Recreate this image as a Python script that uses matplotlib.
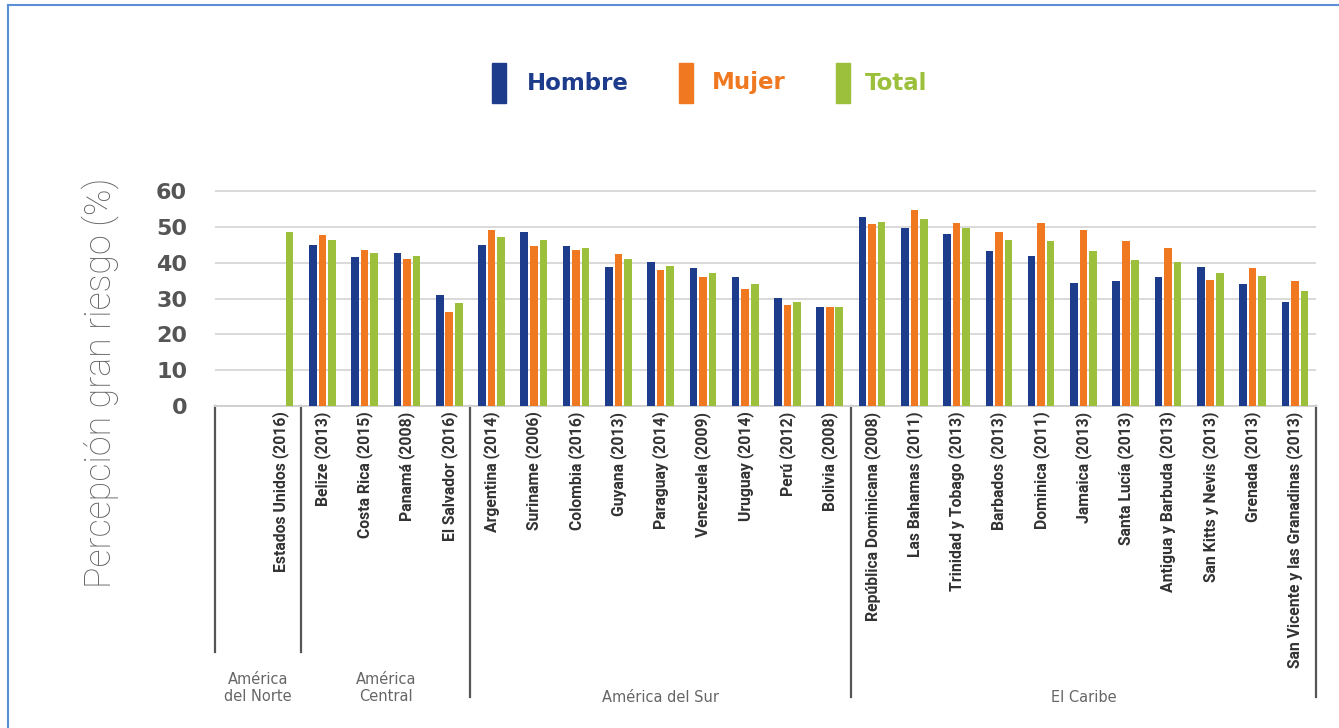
import numpy as np
import matplotlib
matplotlib.use("Agg")
import matplotlib.pyplot as plt
from matplotlib.transforms import blended_transform_factory
from matplotlib.patches import Rectangle
from matplotlib.lines import Line2D

countries = ["Estados Unidos (2016)", "Belize (2013)", "Costa Rica (2015)", "Panamá (2008)",
             "El Salvador (2016)", "Argentina (2014)", "Suriname (2006)", "Colombia (2016)",
             "Guyana (2013)", "Paraguay (2014)", "Venezuela (2009)", "Uruguay (2014)",
             "Perú (2012)", "Bolivia (2008)", "República Dominicana (2008)", "Las Bahamas (2011)",
             "Trinidad y Tobago (2013)", "Barbados (2013)", "Dominica (2011)", "Jamaica (2013)",
             "Santa Lucía (2013)", "Antigua y Barbuda (2013)", "San Kitts y Nevis (2013)",
             "Grenada (2013)", "San Vicente y las Granadinas (2013)"]
hombre = [np.nan, 45.1, 41.5, 42.8, 31.1, 45.1, 48.7, 44.7, 38.8, 40.1, 38.5, 36.0, 30.1, 27.7,
          52.7, 49.8, 48.1, 43.4, 42.0, 34.4, 34.8, 36.0, 38.8, 34.1, 29.1]
mujer = [np.nan, 47.8, 43.7, 41.1, 26.3, 49.1, 44.7, 43.7, 42.4, 38.0, 36.0, 32.7, 28.1, 27.7,
         50.7, 54.8, 51.1, 48.7, 51.1, 49.1, 46.1, 44.1, 35.1, 38.5, 34.8]
total = [48.7, 46.4, 42.8, 41.9, 28.7, 47.2, 46.5, 44.1, 41.1, 39.0, 37.1, 34.0, 29.1, 27.7,
         51.4, 52.1, 49.8, 46.5, 46.1, 43.2, 40.7, 40.1, 37.1, 36.4, 32.0]
series_names = ["Hombre", "Mujer", "Total"]
regions = ["América\ndel Norte", "América\nCentral", "América del Sur", "El Caribe"]
region_bounds = [(-1.54, 0.5), (0.5, 4.5), (4.5, 13.5), (13.5, 24.5)]
yticks = [0, 10, 20, 30, 40, 50, 60]

colors = ["#1e3c8c", "#f07820", "#9cc03c"]
W, H = 1339, 728
fig = plt.figure(figsize=(W / 100, H / 100), dpi=100)
fig.patch.set_facecolor("white")

ax_left, ax_right = 215 / W, 1316 / W
ax_bottom = 1 - 406 / H
ax_top = 1 - 189.4 / H
ax = fig.add_axes([ax_left, ax_bottom, ax_right - ax_left, ax_top - ax_bottom])

x = np.arange(len(countries))
off = 0.225
bw = 0.18
for vals, o, c in zip([hombre, mujer, total], [-off, 0, off], colors):
    ax.bar(x + o, np.array(vals, dtype=float), width=bw, color=c, zorder=3)

ax.set_xlim(-1.54, 24.5)
ax.set_ylim(0, 60.5)
ax.set_yticks(yticks)
ax.set_yticklabels([str(v) for v in yticks], fontsize=16, fontweight="heavy", color="#555555",
                   family="DejaVu Sans")
ax.tick_params(axis="y", length=0, pad=20)
ax.grid(axis="y", color="#d9d9d9", linewidth=1.4, zorder=0)
for s in ["top", "right", "left"]:
    ax.spines[s].set_visible(False)
ax.spines["bottom"].set_color("#d0d0d0")
ax.spines["bottom"].set_linewidth(1.4)

ax.set_xticks(x)
xlabels = ax.set_xticklabels(countries, rotation=90, fontsize=12.5, fontweight="bold",
                             color="#333333", family=["Roboto", "DejaVu Sans"],
                             fontstretch="condensed", va="top", ha="center")
ax.tick_params(axis="x", length=0, pad=4)

# y label
ylab = fig.text(100 / W, 1 - 383 / H, "Percepción gran riesgo (%)", rotation=90, ha="center",
                va="center", fontsize=25, color="#666666", family=["Roboto", "DejaVu Sans"],
                fontstretch="condensed", fontweight="light")

# fit text lengths to the reference
fig.canvas.draw()
r = fig.canvas.get_renderer()
L0 = xlabels[0].get_window_extent(r).height
fs = 12.5 * 161.0 / L0
for t in xlabels:
    t.set_fontsize(fs)
Ly = ylab.get_window_extent(r).height
ylab.set_fontsize(25 * 410.0 / Ly)

# separators
trans = blended_transform_factory(ax.transData, ax.transAxes)
axh = (406 - 189.4)
short = -(652 - 406) / axh
long_ = -(697 - 406) / axh
for xs, yend in [(-1.54, short), (0.5, short), (4.5, long_), (13.5, long_), (24.5, long_)]:
    ax.add_line(Line2D([xs, xs], [0, yend], transform=trans, color="#555555",
                       linewidth=1.6, clip_on=False))

# region labels
for name, (a, b) in zip(regions, region_bounds):
    xc = (a + b) / 2
    if "\n" in name:
        yc = -(688 - 406) / axh
    else:
        yc = -(697 - 406) / axh
    ax.text(xc, yc, name, transform=trans, ha="center", va="center", fontsize=10.5,
            color="#666666", linespacing=1.1, family="DejaVu Sans")

# legend
leg_items = [(492, 527), (679, 712), (836, 865)]
for (bx, tx), name, c in zip(leg_items, series_names, colors):
    fig.patches.append(Rectangle((bx / W, 1 - 103 / H), 14 / W, 40 / H,
                                 transform=fig.transFigure, color=c))
    fig.text(tx / W, 1 - 83 / H, name, ha="left", va="center", fontsize=16.5,
             fontweight="heavy", color=c, family="DejaVu Sans")

# frame
fig.add_artist(Line2D([8 / W, 8 / W], [0, 1 - 5 / H], transform=fig.transFigure,
                      color="#5b8ed6", linewidth=1.5))
fig.add_artist(Line2D([8 / W, 1], [1 - 5 / H, 1 - 5 / H], transform=fig.transFigure,
                      color="#5b8ed6", linewidth=1.5))

fig.savefig("out.png", dpi=100)
